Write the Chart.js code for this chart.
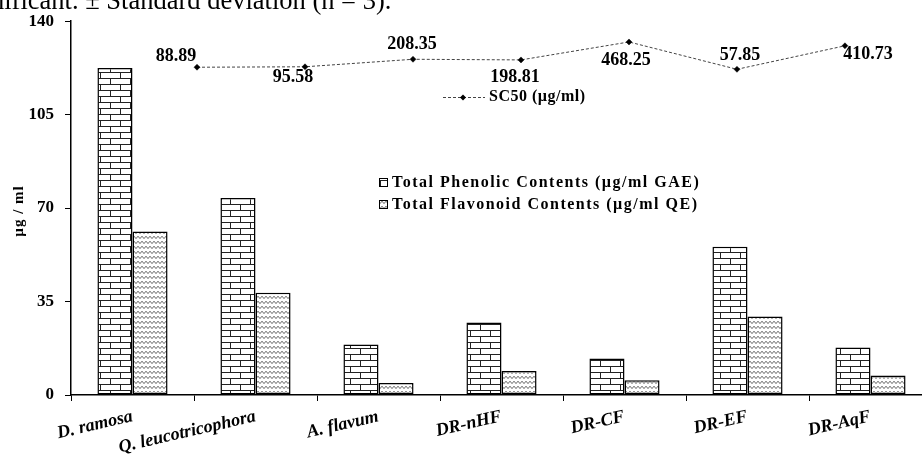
<!DOCTYPE html>
<html>
<head>
<meta charset="utf-8">
<script src="https://cdn.jsdelivr.net/npm/chart.js@4.4.1/dist/chart.umd.min.js"></script>
<style>
  html, body { margin:0; padding:0; overflow:hidden; background:#fff; width:922px; height:457px; }
  #wrap { position:relative; width:940px; height:457px; }
  #cap { position:absolute; left:-9px; top:-13px; font:26.5px/26px "Liberation Serif", serif; color:#000; white-space:nowrap; }
  canvas { position:absolute; left:0; top:0; }
</style>
</head>
<body>
<div id="wrap">
  <canvas id="bars" width="940" height="457"></canvas>
  <canvas id="line" width="940" height="457"></canvas>
  <div id="cap">nificant. ± Standard deviation (n = 3).</div>
</div>
<script>
const categories = ['D. ramosa', 'Q. leucotricophora', 'A. flavum', 'DR-nHF', 'DR-CF', 'DR-EF', 'DR-AqF'];
const phenolic = [122.5, 73.8, 18.9, 27.2, 13.7, 55.5, 17.8];
const flavonoid = [61.2, 38.3, 4.5, 9.0, 5.5, 29.4, 7.3];
const sc50 = [88.89, 95.58, 208.35, 198.81, 468.25, 57.85, 410.73];
const yTicks = [0, 35, 70, 105, 140];
const seriesNames = ['Total Phenolic Contents (µg/ml GAE)', 'Total Flavonoid Contents (µg/ml QE)', 'SC50 (µg/ml)'];
const yTitle = 'µg / ml';

// label offsets (px) for SC50 value labels relative to their points
const labelOffsets = [[-21,-11],[-12,11],[-1,-15],[-6,17],[-3,18],[3,-14],[23,9]];

const FONT = '"Liberation Serif"';

function brickPattern(ctx){
  const t = document.createElement('canvas'); t.width = 20; t.height = 12;
  const g = t.getContext('2d');
  g.fillStyle = '#fff'; g.fillRect(0,0,20,12);
  g.strokeStyle = '#222'; g.lineWidth = 1;
  g.beginPath();
  g.moveTo(0,0.5); g.lineTo(20,0.5);
  g.moveTo(0,6.5); g.lineTo(20,6.5);
  g.moveTo(0.5,0); g.lineTo(0.5,6);
  g.moveTo(10.5,6); g.lineTo(10.5,12);
  g.stroke();
  return ctx.createPattern(t,'repeat');
}
function wavePattern(ctx){
  const t = document.createElement('canvas'); t.width = 8; t.height = 5;
  const g = t.getContext('2d');
  g.fillStyle = '#fff'; g.fillRect(0,0,8,5);
  g.strokeStyle = '#444'; g.lineWidth = 0.8;
  g.beginPath();
  g.moveTo(-2,1.2); g.lineTo(0,3.6); g.lineTo(2,1.2); g.lineTo(4,3.6); g.lineTo(6,1.2); g.lineTo(8,3.6); g.lineTo(10,1.2);
  g.stroke();
  return ctx.createPattern(t,'repeat');
}

const cBars = document.getElementById('bars');
const cLine = document.getElementById('line');
const pBrick = brickPattern(cBars.getContext('2d'));
const pWave = wavePattern(cBars.getContext('2d'));

const barText = {
  id: 'barText',
  afterDraw(chart){
    const ctx = chart.ctx;
    ctx.save();
    ctx.fillStyle = '#000';
    // x labels
    const xs = chart.scales.x;
    ctx.font = 'italic bold 18px ' + FONT;
    ctx.textAlign = 'right'; ctx.textBaseline = 'alphabetic';
    categories.forEach((c,i) => {
      const x = xs.getPixelForValue(i);
      ctx.save(); ctx.translate(x + 1, 421); ctx.rotate(-13*Math.PI/180); ctx.fillText(c, 0, 0); ctx.restore();
    });
    // y title
    ctx.font = 'bold 15px ' + FONT;
    ctx.letterSpacing = '1px';
    ctx.textAlign = 'center'; ctx.textBaseline = 'middle';
    ctx.save(); ctx.translate(19, 211); ctx.rotate(-Math.PI/2); ctx.fillText(yTitle, 0, 0); ctx.restore();
    // bar legend
    ctx.font = 'bold 16px ' + FONT;
    ctx.letterSpacing = '1.5px';
    ctx.textAlign = 'left';
    [[pBrick,183],[pWave,205]].forEach((it,k) => {
      ctx.fillStyle = it[0]; ctx.fillRect(379, it[1]-4.5, 9, 9);
      ctx.strokeStyle = '#000'; ctx.lineWidth = 1; ctx.strokeRect(379.5, it[1]-4.5, 8, 8);
      ctx.fillStyle = '#000'; ctx.fillText(seriesNames[k], 392, it[1]);
    });
    ctx.restore();
  }
};

const lineText = {
  id: 'lineText',
  afterDraw(chart){
    const ctx = chart.ctx;
    ctx.save();
    ctx.fillStyle = '#000';
    const meta = chart.getDatasetMeta(0);
    ctx.font = 'bold 18px ' + FONT;
    ctx.textAlign = 'center'; ctx.textBaseline = 'middle';
    meta.data.forEach((p,i) => {
      ctx.fillText(sc50[i].toFixed(2), p.x + labelOffsets[i][0], p.y + labelOffsets[i][1]);
    });
    // SC50 legend
    ctx.strokeStyle = '#444'; ctx.setLineDash([3,2]); ctx.lineWidth = 1;
    ctx.beginPath(); ctx.moveTo(443, 97.5); ctx.lineTo(485, 97.5); ctx.stroke();
    ctx.setLineDash([]);
    ctx.beginPath(); ctx.moveTo(463, 94.5); ctx.lineTo(466, 97.5); ctx.lineTo(463, 100.5); ctx.lineTo(460, 97.5); ctx.closePath(); ctx.fill();
    ctx.font = 'bold 16px ' + FONT;
    ctx.letterSpacing = '0.5px';
    ctx.textAlign = 'left';
    ctx.fillText(seriesNames[2], 489, 97);
    ctx.restore();
  }
};

new Chart(cBars, {
  type: 'bar',
  data: {
    labels: categories,
    datasets: [
      { label: seriesNames[0], data: phenolic, backgroundColor: pBrick, borderColor: '#000', borderWidth: 1.5, borderSkipped: false },
      { label: seriesNames[1], data: flavonoid, backgroundColor: pWave, borderColor: '#000', borderWidth: 1.5, borderSkipped: false }
    ]
  },
  options: {
    responsive: false,
    animation: false,
    layout: { padding: { left: 0, right: 8, top: 19, bottom: 0 } },
    plugins: { legend: { display: false }, tooltip: { enabled: false } },
    datasets: { bar: { categoryPercentage: 0.57, barPercentage: 1.0 } },
    scales: {
      x: {
        type: 'category', offset: true,
        grid: { drawOnChartArea: false, drawTicks: true, tickLength: 6, color: '#000', offset: true },
        border: { color: '#000', width: 1.5 },
        ticks: { display: false },
        afterFit(s){ s.height = 62; }
      },
      y: {
        min: 0, max: 140,
        afterBuildTicks(s){ s.ticks = yTicks.map(v => ({value: v})); },
        grid: { drawOnChartArea: false, drawTicks: true, tickLength: 6, color: '#000' },
        border: { color: '#000', width: 1.5 },
        ticks: { color: '#000', padding: 11, font: { family: 'Liberation Serif', weight: 'bold', size: 17 } },
        afterFit(s){ s.width = 71; }
      }
    }
  },
  plugins: [barText]
});

new Chart(cLine, {
  type: 'line',
  data: {
    datasets: [
      { label: seriesNames[2], data: sc50.map((v,i) => ({x: i, y: v})),
        borderColor: '#444', borderWidth: 1, borderDash: [3,2], pointStyle: 'rectRot', pointRadius: 3,
        pointBackgroundColor: '#000', pointBorderColor: '#000', pointBorderWidth: 0.5, fill: false, tension: 0 }
    ]
  },
  options: {
    responsive: false,
    animation: false,
    layout: { padding: { left: 71, right: 8, top: 19, bottom: 62 } },
    plugins: { legend: { display: false }, tooltip: { enabled: false } },
    scales: {
      x: { type: 'linear', display: false, offset: false, min: -1.167, max: 6.806 },
      y: { type: 'linear', display: false, min: -4832, max: 813 }
    }
  },
  plugins: [lineText]
});
</script>
</body>
</html>
